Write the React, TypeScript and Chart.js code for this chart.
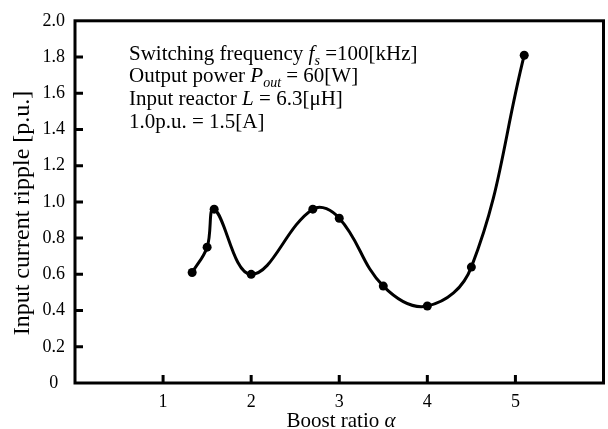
import React, { useEffect, useRef } from "react";
import { Chart, registerables } from "chart.js";

Chart.register(...registerables);

const boostRatio = [1.33, 1.5, 1.58, 2.0, 2.7, 3.0, 3.5, 4.0, 4.5, 5.1];
const ripple = [0.61, 0.75, 0.96, 0.6, 0.96, 0.91, 0.535, 0.425, 0.64, 1.81];
const xTickValues = [1, 2, 3, 4, 5];
const yTickValues = [0, 0.2, 0.4, 0.6, 0.8, 1.0, 1.2, 1.4, 1.6, 1.8, 2.0];

const FONT = "Liberation Serif";

type Seg = { t: string; italic?: boolean; sub?: boolean };
const annotationLines: Seg[][] = [
  [{ t: "Switching frequency " }, { t: "f", italic: true }, { t: "s", italic: true, sub: true }, { t: " =100[kHz]" }],
  [{ t: "Output power " }, { t: "P", italic: true }, { t: "out", italic: true, sub: true }, { t: " = 60[W]" }],
  [{ t: "Input reactor " }, { t: "L", italic: true }, { t: " = 6.3[\u03bcH]" }],
  [{ t: "1.0p.u. = 1.5[A]" }],
];

function drawSegs(ctx: CanvasRenderingContext2D, segs: Seg[], x: number, y: number, size: number) {
  let cx = x;
  for (const s of segs) {
    const fs = s.sub ? Math.round(size * 0.68) : size;
    ctx.font = `${s.italic ? "italic " : ""}${fs}px "${FONT}"`;
    ctx.fillText(s.t, cx, s.sub ? y + 5 : y);
    cx += ctx.measureText(s.t).width;
  }
  return cx;
}

const framePlugin = {
  id: "frameAndTicks",
  afterDraw(chart: any) {
    const { ctx, chartArea, scales } = chart;
    const { left, right, top, bottom } = chartArea;
    ctx.save();
    ctx.strokeStyle = "#000";
    ctx.lineWidth = 3;
    ctx.lineCap = "butt";
    // inward ticks
    ctx.beginPath();
    for (const v of xTickValues) {
      const px = scales.x.getPixelForValue(v);
      ctx.moveTo(px, bottom);
      ctx.lineTo(px, bottom - 8);
    }
    for (const v of yTickValues) {
      if (v <= 0 || v >= 2) continue;
      const py = scales.y.getPixelForValue(v);
      ctx.moveTo(left, py);
      ctx.lineTo(left + 8, py);
    }
    ctx.stroke();
    // frame
    ctx.strokeRect(left, top, right - left, bottom - top);

    // annotation text
    ctx.fillStyle = "#000";
    ctx.textBaseline = "alphabetic";
    ctx.textAlign = "left";
    const baselines = [60, 82, 105, 128];
    annotationLines.forEach((segs, i) => drawSegs(ctx, segs, 129, baselines[i], 21));

    // x title
    const a = "Boost ratio ";
    ctx.font = `21px "${FONT}"`;
    const w1 = ctx.measureText(a).width;
    ctx.font = `italic 21px "${FONT}"`;
    const w2 = ctx.measureText("\u03b1").width;
    const cx = 341 - (w1 + w2) / 2;
    drawSegs(ctx, [{ t: a }, { t: "\u03b1", italic: true }], cx, 427, 21);

    // y title
    ctx.translate(29, 213);
    ctx.rotate(-Math.PI / 2);
    ctx.font = `24px "${FONT}"`;
    ctx.textAlign = "center";
    ctx.fillText("Input current ripple [p.u.]", 0, 0);
    ctx.restore();
  },
};

export default function App() {
  const ref = useRef<HTMLCanvasElement | null>(null);
  useEffect(() => {
    if (!ref.current) return;
    const chart = new Chart(ref.current, {
      type: "line",
      data: {
        datasets: [
          {
            data: boostRatio.map((x, i) => ({ x, y: ripple[i] })),
            borderColor: "#000",
            backgroundColor: "#000",
            borderWidth: 3,
            tension: 0.4,
            pointRadius: 4.5,
            pointBackgroundColor: "#000",
            pointBorderWidth: 0,
            fill: false,
          },
        ],
      },
      options: {
        responsive: false,
        animation: false,
        layout: { padding: { top: 17, right: 3, left: 0, bottom: 0 } },
        plugins: { legend: { display: false }, tooltip: { enabled: false } },
        scales: {
          x: {
            type: "linear",
            min: 0,
            max: 6,
            afterBuildTicks: (s: any) => {
              s.ticks = xTickValues.map((v) => ({ value: v }));
            },
            afterFit: (s: any) => {
              s.height = 46;
            },
            grid: { display: false, drawTicks: false },
            border: { display: false },
            ticks: {
              color: "#000",
              font: { family: FONT, size: 18 },
              padding: 8,
              maxRotation: 0,
              callback: (v: any) => String(v),
            },
          },
          y: {
            type: "linear",
            min: 0,
            max: 2,
            afterBuildTicks: (s: any) => {
              s.ticks = yTickValues.map((v) => ({ value: v }));
            },
            afterFit: (s: any) => {
              s.width = 75;
            },
            grid: { display: false, drawTicks: false },
            border: { display: false },
            ticks: {
              color: "#000",
              font: { family: FONT, size: 18 },
              padding: 10,
              crossAlign: "center",
              callback: (v: any) => (v === 0 ? "0" : Number(v).toFixed(1)),
            },
          },
        },
      },
      plugins: [framePlugin],
    } as any);
    return () => chart.destroy();
  }, []);
  return (
    <div style={{ position: "fixed", left: 0, top: 0, width: 608, height: 429, background: "#fff" }}>
      <canvas ref={ref} width={608} height={429} />
    </div>
  );
}
